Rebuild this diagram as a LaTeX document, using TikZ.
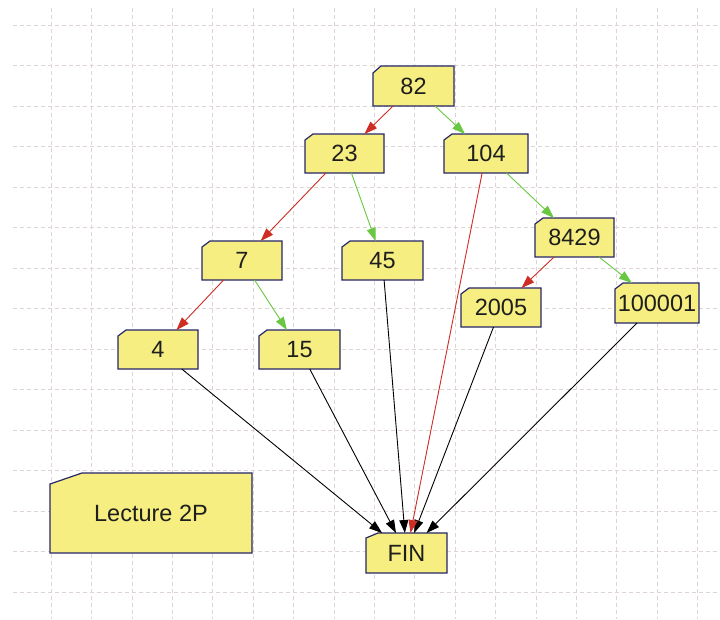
\documentclass[tikz,border=0pt]{standalone}
\usepackage{fontspec}
\setmainfont{Liberation Sans}
\usetikzlibrary{arrows.meta}
\pgfdeclarelayer{background}
\pgfsetlayers{background,main}
\definecolor{boxfill}{RGB}{246,238,128}
\definecolor{boxline}{RGB}{38,38,105}
\definecolor{redarrow}{RGB}{205,45,35}
\definecolor{greenarrow}{RGB}{105,200,65}
\definecolor{gridcol}{RGB}{222,212,212}
\definecolor{txt}{RGB}{30,30,30}
\tikzset{
 card/.style={minimum width=80pt, minimum height=39pt, inner sep=0pt, outer sep=0pt, text=txt, font=\fontsize{23.5}{23.5}\selectfont},
 edgebase/.style={line width=0.9pt, -{Triangle[length=13pt,width=9pt]}},
 lo/.style={edgebase, draw=redarrow},
 hi/.style={edgebase, draw=greenarrow},
 tofin/.style={edgebase, draw=black},
 gridline/.style={draw=gridcol, line width=0.6pt, dash pattern=on 4pt off 3pt},
 cardshape/.style={fill=boxfill, draw=boxline, line width=1.2pt, line join=miter}
}
\begin{document}
\begin{tikzpicture}[x=1pt,y=-1pt]
\useasboundingbox (0,0) rectangle (720,619);
\node[card, minimum width=81pt, minimum height=40pt] (n82) at (413.5,86) {82};
\node[card, minimum width=79pt] (n23) at (344.5,153.5) {23};
\node[card, minimum width=84pt] (n104) at (486,153.5) {104};
\node[card] (n7) at (242,260.5) {7};
\node[card, minimum width=81pt] (n45) at (382.5,260.5) {45};
\node[card, minimum width=79pt] (n8429) at (574.5,237.5) {8429};
\node[card] (n4) at (158,349.5) {4};
\node[card, minimum width=81pt] (n15) at (299.5,349.5) {15};
\node[card] (n2005) at (501,307.5) {2005};
\node[card, minimum width=84pt, minimum height=40pt] (n100001) at (657,303) {100001};
\node[card, minimum width=202pt, minimum height=80pt] (lecture) at (151,513) {Lecture 2P};
\node[card, minimum width=81pt, minimum height=40pt] (fin) at (406.5,553) {FIN};

\begin{pgfonlayer}{background}
\fill[white] (0,0) rectangle (720,619);
\foreach \k in {0,...,16} \draw[gridline] ({51+40.4*\k},8) -- ({51+40.4*\k},619);
\foreach \k in {0,...,14} \draw[gridline] (13,{25+40.5*\k}) -- (720,{25+40.5*\k});
\foreach \n/\cx/\cy in {n82/8/7, n23/8/6, n104/8/6, n7/8/6, n45/8/6, n8429/8/6, n4/8/6, n15/8/6, n2005/8/6, n100001/8/6, lecture/32/11, fin/12/5}
  \draw[cardshape] (\n.south west) -- (\n.south east) -- (\n.north east) -- ([xshift=\cx pt]\n.north west) -- ([yshift=-\cy pt]\n.north west) -- cycle;
\end{pgfonlayer}

\draw[lo] (n82) -- (n23);
\draw[hi] (n82) -- (n104);
\draw[lo] (n23) -- (n7);
\draw[hi] (n23) -- (n45);
\draw[hi] (n104) -- (n8429);
\draw[lo] (n7) -- (n4);
\draw[hi] (n7) -- (n15);
\draw[lo] (n8429) -- (n2005);
\draw[hi] (n8429) -- (n100001);
\draw[tofin] (n4) -- (fin);
\draw[tofin] (n15) -- (fin);
\draw[tofin] (n45) -- (fin);
\draw[tofin] (n2005) -- (fin);
\draw[tofin] (n100001) -- (fin);
\draw[lo] (n104) -- (fin);
\end{tikzpicture}
\end{document}
